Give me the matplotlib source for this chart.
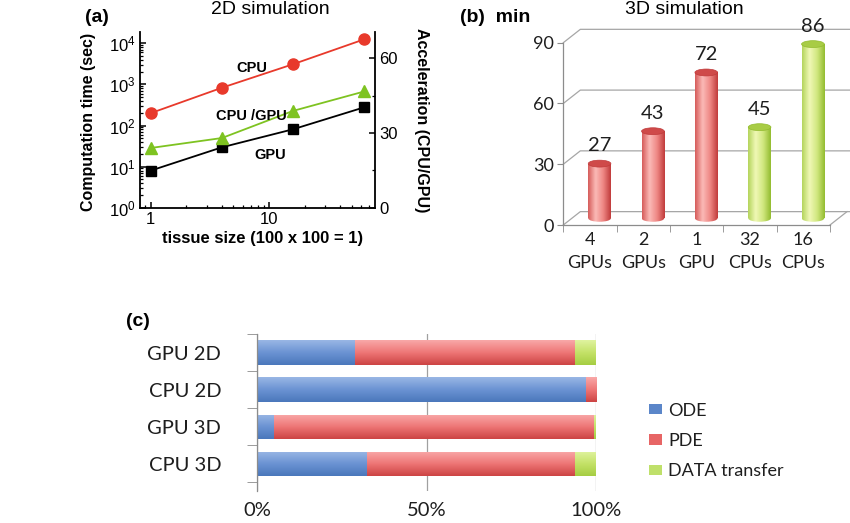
"""
Three-panel figure: 2D timing (log-log), 3D bar chart, stacked breakdown
"""
import numpy as np
import matplotlib
matplotlib.use("Agg")
import matplotlib.pyplot as plt
from matplotlib.patches import Ellipse, Patch
from matplotlib.colors import LinearSegmentedColormap
from matplotlib.ticker import LogLocator, NullFormatter, FixedLocator

# (a) 2D simulation
tissue_size = [1, 4, 16, 64]
cpu_time = [200, 830, 3100, 12500]
gpu_time = [8, 29.5, 81, 277]
acceleration = [24, 28, 38.9, 46.7]

# (b) 3D simulation (minutes)
hw_labels = ["4\nGPUs", "2\nGPUs", "1\nGPU", "32\nCPUs", "16\nCPUs"]
hw_minutes = [27, 43, 72, 45, 86]
hw_kind = ["gpu", "gpu", "gpu", "cpu", "cpu"]

# (c) share of run time (%)
runs = ["GPU 2D", "CPU 2D", "GPU 3D", "CPU 3D"]
ode_pct = [29, 97, 5, 32.5]
pde_pct = [65, 3, 94.5, 61.5]
data_pct = [6, 0, 0.5, 6]
part_names = ["ODE", "PDE", "DATA transfer"]

W, H = 850, 523
plt.rcParams["font.family"] = ["Liberation Sans", "DejaVu Sans"]
plt.rcParams["mathtext.default"] = "regular"
XL = "Lato"
GRAY = "#8c8c8c"
TXT = "#1e1e1e"


def box(l, t, r, b):
    """ pixel box -> figure fraction rect """
    return [l / W, 1 - b / H, (r - l) / W, (b - t) / H]


def fx(x):
    return x / W


def fy(y):
    return 1 - y / H


def gradient(ax, patch, colors, extent, horizontal):
    """ fill a patch with a linear gradient """
    cmap = LinearSegmentedColormap.from_list("g", colors)
    g = np.linspace(0, 1, 256)
    arr = g.reshape(1, -1) if horizontal else g.reshape(-1, 1)
    im = ax.imshow(arr, cmap=cmap, extent=extent, origin="lower",
                   aspect="auto", interpolation="bicubic",
                   zorder=patch.get_zorder())
    im.set_clip_path(patch)
    return im


fig = plt.figure(figsize=(8.5, 5.23), dpi=100)

# ---------------- (a) ----------------
ax = fig.add_axes(box(140, 32, 375, 207.7))
ax.set_xscale("log")
ax.set_yscale("log")
ax.plot(tissue_size, cpu_time, "-o", color="#e8392b", lw=1.3, ms=8, zorder=3)
ax.plot(tissue_size, gpu_time, "-s", color="black", lw=1.3, ms=7, zorder=3)
ax2 = ax.twinx()
ax2.plot(tissue_size, acceleration, "-^", color="#7ec321", lw=1.3, ms=8.5)
ax.set_xlim(0.81, 79)
ax.set_ylim(1, 10 ** 4.275)
ax2.set_ylim(0, 70.6)
for a in (ax, ax2):
    a.spines["top"].set_visible(False)
    for s in a.spines.values():
        s.set_linewidth(1.3)
ax.spines["right"].set_visible(False)
ax2.spines["left"].set_visible(False)
ax2.spines["bottom"].set_visible(False)

ax.yaxis.set_major_locator(LogLocator(base=10, numticks=10))
ax.yaxis.set_minor_locator(LogLocator(base=10, subs=np.arange(2, 10), numticks=10))
ax.yaxis.set_minor_formatter(NullFormatter())
ax.set_xticks([1, 10], labels=["1", "10"])
ax.xaxis.set_minor_locator(LogLocator(base=10, subs=np.arange(2, 10), numticks=10))
ax.xaxis.set_minor_formatter(NullFormatter())
ax2.set_yticks([0, 30, 60])
ax2.yaxis.set_minor_locator(FixedLocator([15, 45]))
for a in (ax, ax2):
    a.tick_params(which="major", direction="in", length=4, width=1.1, labelsize=12, pad=3)
    a.tick_params(which="minor", direction="in", length=2.5, width=0.9)

fig.text(fx(89), fy(122), "Computation time (sec)", rotation=90, ha="center",
         va="center", weight="bold", size=11.5)
fig.text(fx(421), fy(120), "Acceleration (CPU/GPU)", rotation=-90, ha="center",
         va="center", weight="bold", size=11.5)
fig.text(fx(263), fy(238), "tissue size (100 x 100 = 1)", ha="center",
         va="center", weight="bold", size=12)
fig.text(fx(97), fy(17), "(a)", ha="center", va="center", weight="bold", size=14)
fig.text(fx(270), fy(9), "2D simulation", ha="center", va="center", size=14)
fig.text(fx(252), fy(68), "CPU", ha="center", va="center", weight="bold", size=10.5)
fig.text(fx(251), fy(116), "CPU /GPU", ha="center", va="center", weight="bold", size=10.5)
fig.text(fx(270), fy(155), "GPU", ha="center", va="center", weight="bold", size=10.5)

# ---------------- (b) ----------------
axb = fig.add_axes(box(563.3, 42.7, 830, 225))
dx, dy = 0.319, 6.6          # depth of the back wall
bx, by = 0.18, 3.3           # bars sit half way back
bw, cap = 0.425, 3.4
grid_c = "#a6a6a6"
for yv in [0, 30, 60, 90]:
    axb.plot([-0.5, -0.5 + dx, 5.3], [yv, yv + dy, yv + dy], color=grid_c,
             lw=0.9, clip_on=False, zorder=0)
axb.plot([4.5, 4.5 + dx], [0, dy], color=grid_c, lw=0.9, clip_on=False, zorder=0)

shades = {
    "gpu": (["#d55a58", "#fbbab7", "#ee8683", "#c03a3a"], "#cf4a49"),
    "cpu": (["#b3d45a", "#f0f8b6", "#d0e77e", "#92bb2e"], "#a8cc45"),
}
xs = np.arange(len(hw_minutes))
bars = axb.bar(xs + bx, hw_minutes, bottom=by, width=bw,
               facecolor="none", edgecolor="none", zorder=2)
for i, (rect, v, kind) in enumerate(zip(bars, hw_minutes, hw_kind)):
    cols, capc = shades[kind]
    xc = xs[i] + bx
    ext = (xc - bw / 2, xc + bw / 2, by - cap / 2, by + v)
    gradient(axb, rect, cols, ext, True)
    bottom = Ellipse((xc, by), bw, cap, facecolor="none", edgecolor="none", zorder=2)
    axb.add_patch(bottom)
    gradient(axb, bottom, cols, ext, True)
    axb.add_patch(Ellipse((xc, by + v), bw, cap, facecolor=capc,
                          edgecolor=cols[3], lw=0.5, zorder=3, clip_on=False))
    axb.annotate(str(v), (xc, by + v), xytext=(0, 13), textcoords="offset points",
                 ha="center", va="center", fontsize=14.5, family=XL, color=TXT)

axb.set_xlim(-0.5, 4.5)
axb.set_ylim(0, 90)
for s in ["top", "right"]:
    axb.spines[s].set_visible(False)
for s in ["left", "bottom"]:
    axb.spines[s].set_color(GRAY)
    axb.spines[s].set_linewidth(0.9)
axb.set_yticks([0, 30, 60, 90])
axb.set_yticklabels(["0", "30", "60", "90"], fontfamily=XL, fontsize=13, color=TXT)
axb.set_xticks(xs)
axb.set_xticklabels(hw_labels, fontfamily=XL, fontsize=13, linespacing=1.55, color=TXT)
axb.xaxis.set_minor_locator(FixedLocator(np.arange(-0.5, 5, 1)))
axb.tick_params(axis="y", direction="out", length=4, color=GRAY, pad=3)
axb.tick_params(axis="x", which="major", length=0, pad=5)
axb.tick_params(axis="x", which="minor", direction="out", length=5, color=GRAY)

fig.text(fx(460), fy(17), "(b)  min", ha="left", va="center", weight="bold", size=14)
fig.text(fx(684), fy(9), "3D simulation", ha="center", va="center", size=14)

# ---------------- (c) ----------------
axc = fig.add_axes(box(257.3, 334, 595.7, 491))
ypos = np.arange(len(runs))[::-1]
bh = 0.66
ode = np.array(ode_pct)
pde = np.array(pde_pct)
dat = np.array(data_pct)
fills = [
    (["#4a77bb", "#6b93d3", "#9ab7e5"], "#5b86c9"),
    (["#cc4343", "#ee7676", "#f9a9a9"], "#e76565"),
    (["#a5cd42", "#c4e268", "#e0f3a0"], "#bfe06a"),
]
lefts = [np.zeros(len(runs)), ode, ode + pde]
for vals, left, (cols, _) in zip([ode, pde, dat], lefts, fills):
    rects = axc.barh(ypos, vals, left=left, height=bh, facecolor="none",
                     edgecolor="none", zorder=2)
    for r in rects:
        if r.get_width() <= 0:
            continue
        ext = (r.get_x(), r.get_x() + r.get_width(), r.get_y(), r.get_y() + r.get_height())
        gradient(axc, r, cols, ext, False)

axc.set_xlim(0, 100)
axc.set_ylim(-0.732, 3.5)
for s in ["top", "right", "bottom"]:
    axc.spines[s].set_visible(False)
axc.spines["left"].set_color(GRAY)
axc.spines["left"].set_linewidth(0.9)
axc.set_xticks([0, 50, 100])
axc.set_xticklabels(["0%", "50%", "100%"], fontfamily=XL, fontsize=14.5, color=TXT)
axc.set_yticks(ypos)
axc.set_yticklabels(runs, fontfamily=XL, fontsize=14.5, color=TXT)
axc.yaxis.set_minor_locator(FixedLocator(np.arange(-0.5, 4, 1)))
axc.tick_params(axis="x", length=0, pad=8)
axc.tick_params(axis="y", which="major", length=0, pad=26)
axc.tick_params(axis="y", which="minor", direction="out", length=7, color=GRAY)
axc.xaxis.grid(True, color="#a0a0a0", lw=0.9)
axc.set_axisbelow(True)

handles = [Patch(facecolor=c) for _, c in fills]
fig.legend(handles, part_names, loc="center left",
           bbox_to_anchor=(fx(649), fy(441)), frameon=False,
           prop={"family": XL, "size": 13}, handlelength=0.7, handleheight=0.5,
           handletextpad=0.35, labelspacing=0.8, borderpad=0, borderaxespad=0,
           labelcolor=TXT)

fig.text(fx(138), fy(322), "(c)", ha="center", va="center", weight="bold", size=14)

fig.savefig("out.png", dpi=100)
